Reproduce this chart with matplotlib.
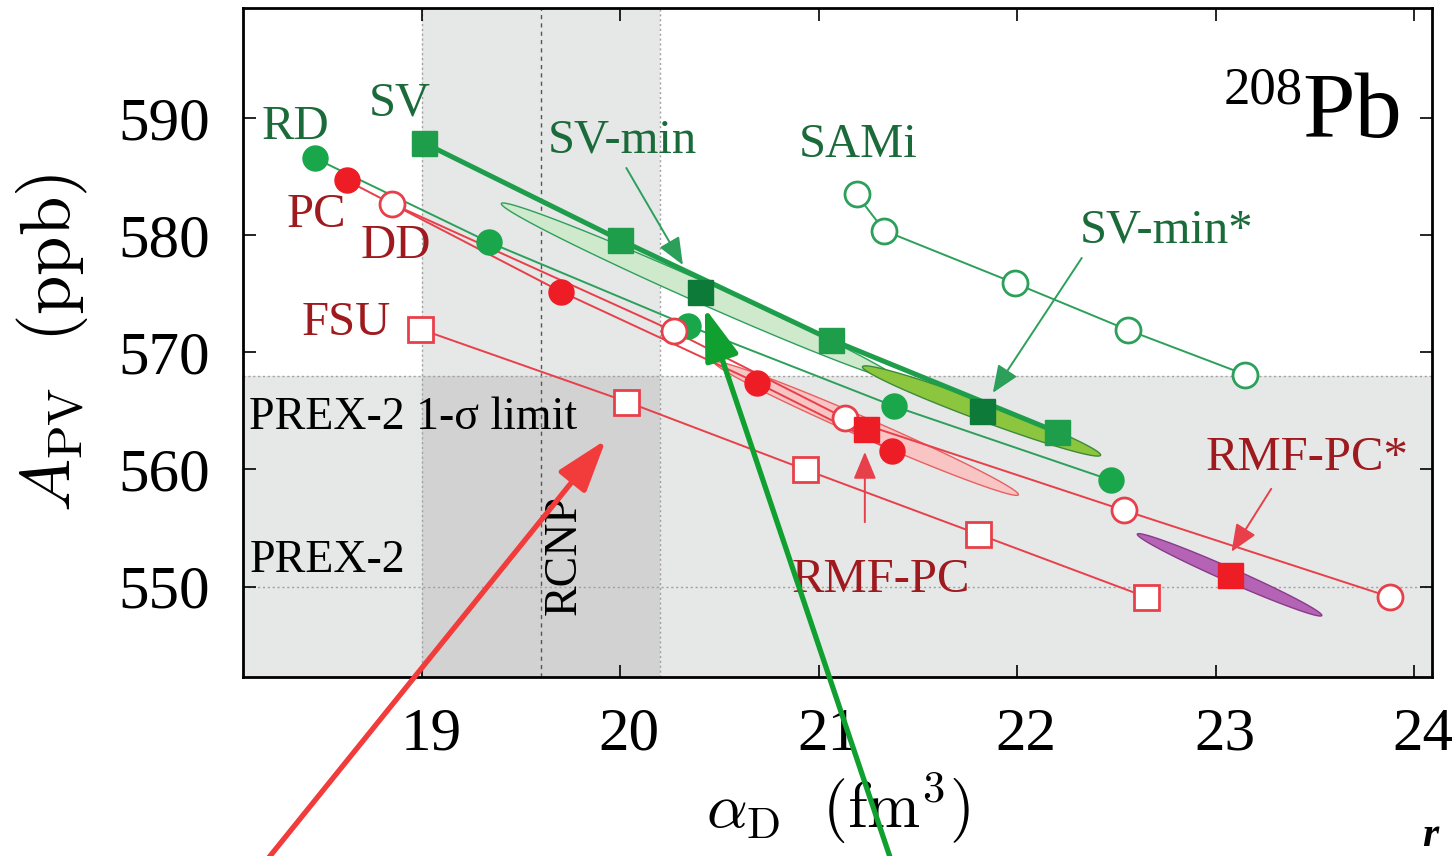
import numpy as np
import matplotlib
matplotlib.use("Agg")
import matplotlib.pyplot as plt
from matplotlib.transforms import ScaledTranslation

plt.rcParams['font.family'] = ['Liberation Serif', 'DejaVu Serif']
plt.rcParams['mathtext.fontset'] = 'cm'

# Dipole polarizability alpha_D (fm^3) versus parity-violating asymmetry A_PV (ppb)
rd_alpha = [18.46, 19.34, 20.34, 21.38, 22.47]
rd_apv = [586.6, 579.4, 572.3, 565.4, 559.1]
pc_alpha = [18.62, 19.70, 20.69, 21.37]
pc_apv = [584.7, 575.2, 567.4, 561.6]
dd_alpha = [18.85, 20.27, 21.13, 22.54, 23.88]
dd_apv = [582.7, 571.8, 564.4, 556.5, 549.1]
fsu_alpha = [18.99, 20.03, 20.93, 21.80, 22.65]
fsu_apv = [572.0, 565.8, 560.0, 554.5, 549.1]
sv_alpha = [19.01, 20.00, 21.06, 22.20]
sv_apv = [587.9, 579.6, 571.1, 563.2]
sami_alpha = [21.19, 21.33, 21.99, 22.56, 23.15]
sami_apv = [583.5, 580.4, 575.9, 571.9, 568.1]

# Optimal parametrizations (centre points of the covariance ellipses)
svmin_pt = (20.40, 575.2)
svmin_star_pt = (21.82, 565.0)
rmfpc_pt = (21.24, 563.5)
rmfpc_star_pt = (23.07, 551.0)

# Ellipse shape: half major-axis vector (d_alpha, d_apv) and vertical half-thickness
svmin_axis, svmin_h = (1.00, -7.5), 1.0
svmin_star_axis, svmin_star_h = (0.60, -3.76), 0.85
rmfpc_axis, rmfpc_h = (0.766, -5.64), 0.9
rmfpc_star_axis, rmfpc_star_h = (0.465, -3.46), 0.64

# Experimental constraints
prex2_apv = 550.0
prex2_limit = 568.0
rcnp_alpha, rcnp_err = 19.6, 0.6

xticks = [19, 20, 21, 22, 23, 24]
yticks = [550, 560, 570, 580, 590]
xlim = (18.10, 24.09)
ylim = (542.3, 599.4)

GREEN = '#1aa64a'
DKGREEN = '#0e7a3a'
LGREEN = '#2ca05a'
RED = '#ee1c25'
LRED = '#e8404a'
TXT_G = '#1b6b3a'
TXT_R = '#9e1a1e'

fig = plt.figure(figsize=(14.52, 8.56), dpi=100)
ax = fig.add_axes([0.1676, 0.2095, 0.8186, 0.7808])
ax.set_xlim(*xlim)
ax.set_ylim(*ylim)

# shaded constraint bands
band = '#e6e7e7'
overlap = '#d2d2d2'
ax.axvspan(rcnp_alpha - rcnp_err, rcnp_alpha + rcnp_err, color=band, lw=0, zorder=0)
ax.axhspan(ylim[0], prex2_limit, color=band, lw=0, zorder=0)
ax.fill_between([rcnp_alpha - rcnp_err, rcnp_alpha + rcnp_err], ylim[0], prex2_limit,
                color=overlap, lw=0, zorder=0.5)
for xv in (rcnp_alpha - rcnp_err, rcnp_alpha + rcnp_err):
    ax.axvline(xv, color='#a0a0a0', ls=(0, (1.5, 2)), lw=1.0, zorder=0.8)
ax.axvline(rcnp_alpha, color='#555555', ls=(0, (3, 3)), lw=1.0, zorder=0.8)
for yv in (prex2_limit, prex2_apv):
    ax.axhline(yv, color='#a0a0a0', ls=(0, (1.5, 2)), lw=1.0, zorder=0.8)


def draw_ellipse(center, axis, h, face, edge):
    t = np.linspace(0, 2 * np.pi, 400)
    xs = center[0] + axis[0] * np.cos(t)
    ys = center[1] + axis[1] * np.cos(t) + h * np.sin(t)
    ax.fill(xs, ys, facecolor=face, edgecolor=edge, lw=1.0, zorder=2)


draw_ellipse(svmin_pt, svmin_axis, svmin_h, '#cfe9cc', LGREEN)
draw_ellipse(rmfpc_pt, rmfpc_axis, rmfpc_h, '#f8c4c4', '#e86060')
draw_ellipse(svmin_star_pt, svmin_star_axis, svmin_star_h, '#8cc63e', '#3d8a3a')
draw_ellipse(rmfpc_star_pt, rmfpc_star_axis, rmfpc_star_h, '#b564b5', '#8a3a8a')

ms = 18
# families of functionals
ax.plot(rd_alpha, rd_apv, '-', color=LGREEN, lw=1.4, zorder=3)
ax.plot(rd_alpha, rd_apv, 'o', color=GREEN, ms=ms, mec=GREEN, zorder=4)
ax.plot(pc_alpha, pc_apv, '-', color=LRED, lw=1.4, zorder=3)
ax.plot(pc_alpha, pc_apv, 'o', color=RED, ms=ms, mec=RED, zorder=4)
ax.plot(dd_alpha, dd_apv, '-', color=LRED, lw=1.4, zorder=3)
ax.plot(dd_alpha, dd_apv, 'o', mfc='white', mec=LRED, mew=2.0, ms=ms, zorder=4)
ax.plot(fsu_alpha, fsu_apv, '-', color=LRED, lw=1.4, zorder=3)
ax.plot(fsu_alpha, fsu_apv, 's', mfc='white', mec=LRED, mew=2.0, ms=ms, zorder=4)
ax.plot(sami_alpha, sami_apv, '-', color=LGREEN, lw=1.4, zorder=3)
ax.plot(sami_alpha, sami_apv, 'o', mfc='white', mec=LGREEN, mew=2.0, ms=ms, zorder=4)
ax.plot(sv_alpha, sv_apv, 's', color='#1e9e4a', ms=ms, zorder=3)
ax.plot(sv_alpha, sv_apv, '-', color='#1e9e4a', lw=3.6, zorder=3.5)

ax.plot(*svmin_pt, 's', color=DKGREEN, ms=ms, zorder=5)
ax.plot(*svmin_star_pt, 's', color=DKGREEN, ms=ms, zorder=5)
ax.plot(*rmfpc_pt, 's', color=RED, ms=ms, zorder=5)
ax.plot(*rmfpc_star_pt, 's', color=RED, ms=ms, zorder=5)

# labels of the families
lab = dict(fontsize=35, ha='center', va='center', zorder=6)
ax.text(18.36, 589.3, 'RD', color=TXT_G, **lab)
ax.text(18.89, 591.3, 'SV', color=TXT_G, **lab)
ax.text(18.47, 581.7, 'PC', color=TXT_R, **lab)
ax.text(18.87, 579.1, 'DD', color=TXT_R, **lab)
ax.text(18.62, 572.5, 'FSU', color=TXT_R, **lab)
ax.text(20.01, 588.1, 'SV-min', color=TXT_G, **lab)
ax.text(21.20, 587.7, 'SAMi', color=TXT_G, **lab)
ax.text(22.75, 580.4, 'SV-min*', color=TXT_G, **lab)
ax.text(23.46, 561.0, 'RMF-PC*', color=TXT_R, **lab)
ax.text(21.31, 550.6, 'RMF-PC', color=TXT_R, **lab)
ax.text(18.13, 564.4, 'PREX-2 1-σ limit', color='black', fontsize=33,
        ha='left', va='center', zorder=6)
ax.text(18.13, 552.2, 'PREX-2', color='black', fontsize=33,
        ha='left', va='center', zorder=6)
ax.text(19.72, 552.7, 'RCNP', color='black', fontsize=33, rotation=90,
        ha='center', va='center', zorder=6)
ax.text(23.94, 588.4, 'Pb', color='black', fontsize=68, ha='right',
        va='baseline', zorder=6)
ax.text(23.44, 591.3, '208', color='black', fontsize=38, ha='right',
        va='baseline', zorder=6)

# pointers to the optimal parametrizations
def pointer(tip, start, color):
    ax.annotate('', xy=tip, xytext=start,
                arrowprops=dict(arrowstyle='-|>,head_length=0.6,head_width=0.25',
                                color=color, lw=1.4, mutation_scale=28,
                                shrinkA=0, shrinkB=0), zorder=6)


pointer((20.315, 577.47), (20.03, 585.76), LGREEN)
pointer((21.877, 566.55), (22.325, 578.07), LGREEN)
pointer((21.232, 561.5), (21.232, 555.5), LRED)
pointer((23.08, 552.97), (23.28, 558.35), LRED)

# large highlight arrows entering from below the frame
for tip, start, color in [((19.927, 562.53), (262, -10), '#f23b3b'),
                          ((20.426, 573.8), (893, -10), '#10a030')]:
    ax.annotate('', xy=tip, xycoords='data', xytext=start,
                textcoords='figure pixels', annotation_clip=False,
                arrowprops=dict(arrowstyle='-|>,head_length=1.0,head_width=0.33',
                                color=color, lw=3.8, mutation_scale=32,
                                shrinkA=0, shrinkB=0), zorder=10)

# axes, ticks and labels
ax.set_xticks(xticks)
ax.set_yticks(yticks)
ax.tick_params(direction='in', length=9, width=1.2, top=True, right=True,
               labelsize=44)
ax.tick_params(axis='y', pad=24)
ax.tick_params(axis='x', pad=22)
for lbl in ax.get_xticklabels():
    lbl.set_transform(lbl.get_transform() + ScaledTranslation(0.09, 0, fig.dpi_scale_trans))
for sp in ax.spines.values():
    sp.set_linewidth(2.0)
    sp.set_zorder(7)

ax.set_ylabel(r'$A_{\mathrm{PV}}\ \ (\mathrm{ppb})$', fontsize=51, labelpad=20)
ax.set_xlabel(r'$\alpha_{\mathrm{D}}\ \ (\mathrm{fm}^3)$', fontsize=46, labelpad=6)

fig.text(1430 / 1452, 1 - 846 / 856, 'r',
         fontsize=30, style='italic', weight='bold', ha='center', va='baseline')

fig.savefig('out.png', dpi=100)
